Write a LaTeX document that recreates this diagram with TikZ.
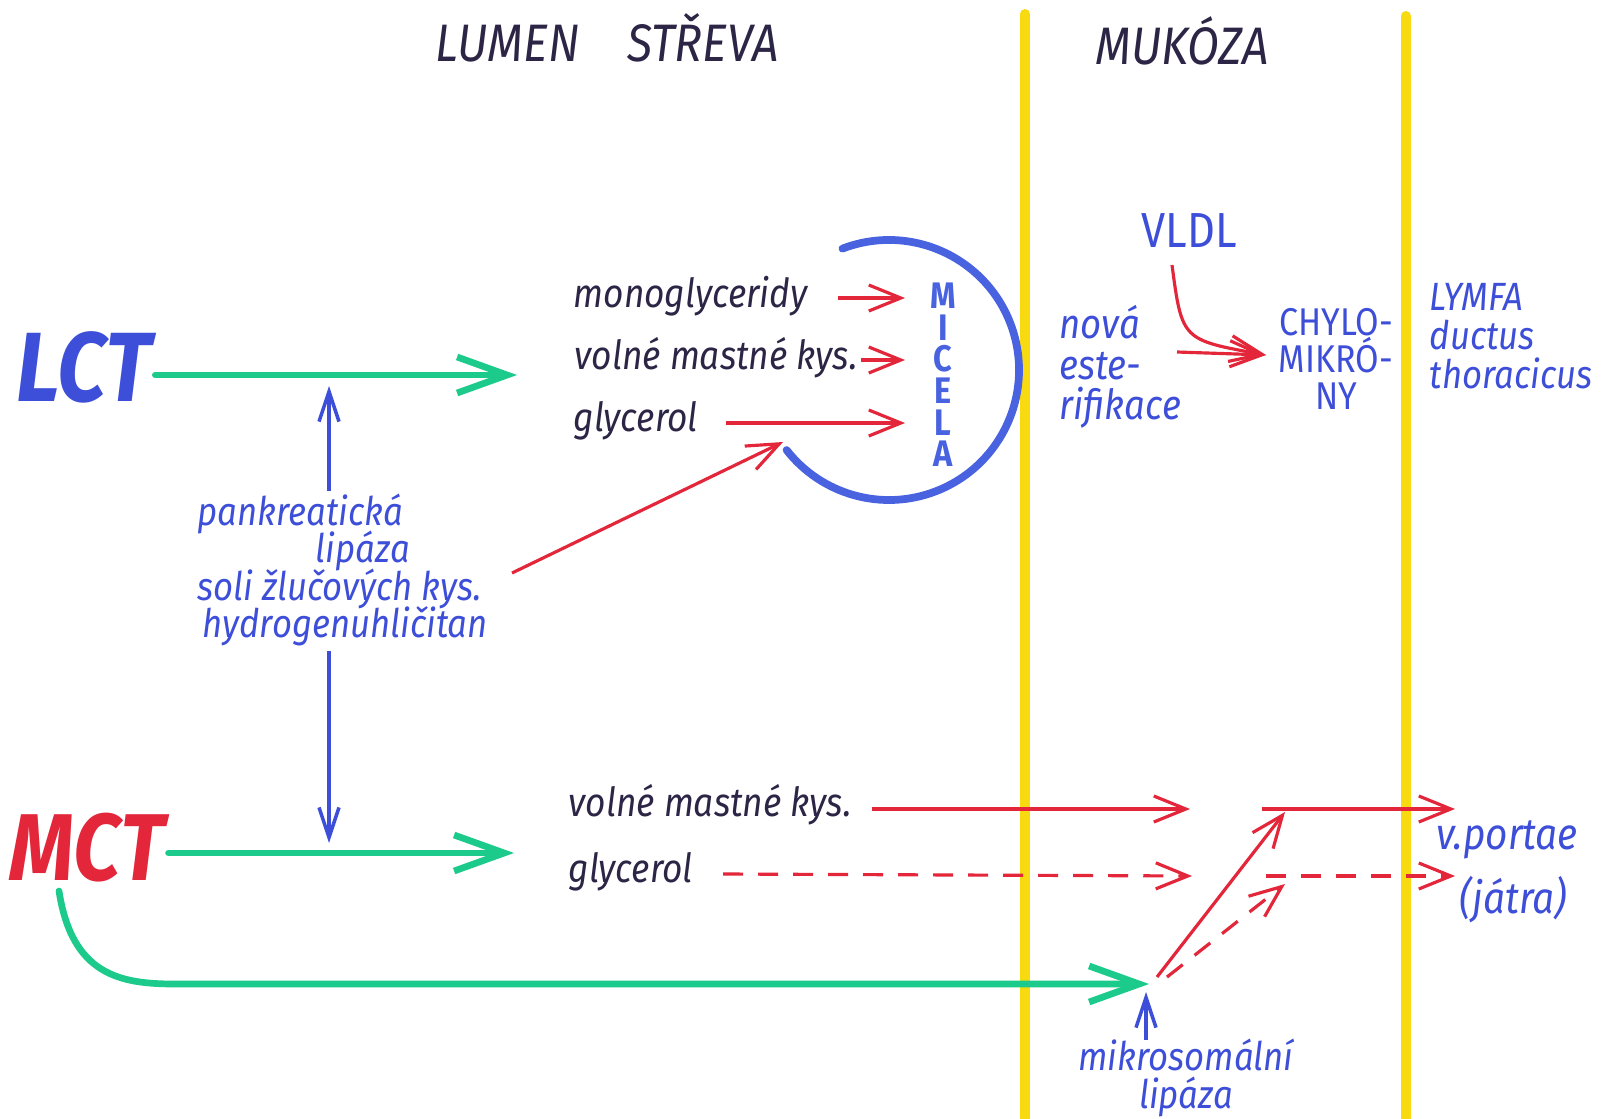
\documentclass[tikz,border=0pt]{standalone}
\usepackage{fontspec}
\setmainfont{Fira Sans}[FakeStretch=0.88]
\usetikzlibrary{arrows.meta}
\definecolor{ink}{HTML}{2C2545}
\definecolor{pen}{HTML}{3D4ED8}
\definecolor{redpen}{HTML}{E3263A}
\definecolor{greenpen}{HTML}{1CCB8C}
\definecolor{yelpen}{HTML}{F7DA10}
\definecolor{micpen}{HTML}{4862E0}

\begin{document}
\begin{tikzpicture}[x=0.01cm, y=-0.01cm,
    tight/.style={execute at begin node={\lineskiplimit=-50pt}},
    title/.style={text=ink, inner sep=0pt, font=\fontsize{15}{18}\selectfont\itshape},
    dark/.style={text=ink, anchor=west, inner sep=0pt, font=\fontsize{11.4}{14}\selectfont\itshape},
    hand/.style={text=pen, inner sep=0pt, tight, font=\fontsize{11.2}{10.6}\selectfont\itshape},
    caps/.style={text=pen, inner sep=0pt, align=center, tight, font=\fontsize{11.5}{10.5}\selectfont},
    big/.style={inner sep=1pt, font=\fontsize{28}{30}\selectfont\bfseries\itshape},
    wall/.style={yelpen, line width=1mm, line cap=round},
    red arr/.style={-{Straight Barb[length=3.2mm,width=2.6mm]}, redpen, line width=0.9pt},
    red dash/.style={red arr, dash pattern=on 2mm off 1.5mm},
    green arr/.style={-{Straight Barb[length=5mm,width=3.6mm]}, greenpen, line width=1.9pt, line cap=round},
    blue arr/.style={-{Straight Barb[length=3mm,width=2mm]}, pen, line width=1pt}
  ]
  \useasboundingbox (0,0) rectangle (1612,1118);
  \fill[white] (0,0) rectangle (1612,1118);

  % Walls
  \draw[wall] (1025,14) -- (1025,1118);
  \draw[wall] (1406,16) -- (1406,1118);

  % Titles
  \node[title] (lumen) at (607,38) {LUMEN\hspace{0.9em}STŘEVA};
  \node[title] (mukoza) at (1182,41) {MUKÓZA};

  % Substrates
  \node[big, text=pen] (lct) at (84,367) {LCT};
  \node[big, text=redpen, font=\fontsize{27}{30}\selectfont\bfseries\itshape] (mct) at (87,848) {MCT};

  % Enzymes
  \node[hand, align=left, anchor=west] (enzymes) at (197,570)
    {pankreatická\\\hspace*{3em}lipáza\\soli žlučových kys.\\\hspace*{1.5pt}hydrogenuhličitan};

  % Micelle
  \node[dark] (mono) at (573,296) {monoglyceridy};
  \node[dark] (vmk) at (574,358) {volné mastné kys.};
  \node[dark] (gly) at (573,421) {glycerol};
  \node[caps, text=micpen, font=\fontsize{10.5}{9}\selectfont\bfseries] (micela) at (943,375) {M\\I\\C\\E\\L\\A};
  \coordinate (micc) at (889,370);
  \draw[micpen, line width=2.2pt, line cap=round] ([shift={(-111:130)}]micc) arc[start angle=-111, end angle=142, radius=130];

  % Mucosa
  \node[caps, font=\fontsize{14}{16}\selectfont] (vldl) at (1189,231) {VLDL};
  \node[caps, align=left, anchor=west, font=\fontsize{11.8}{11.6}\selectfont\itshape] (ester) at (1059,367) {nová\\este-\\rifikace};
  \node[caps, font=\fontsize{11}{10.5}\selectfont] (chylo) at (1336,359) {CHYLO-\\MIKRÓ-\\NY};
  \node[hand, align=left, anchor=west, font=\fontsize{11.2}{11}\selectfont\itshape] (lymfa) at (1429,336) {LYMFA\\ductus\\thoracicus};

  % Portal route
  \node[dark] (vmk2) at (568,805) {volné mastné kys.};
  \node[dark] (gly2) at (568,872) {glycerol};
  \node[hand, anchor=west, font=\fontsize{12.5}{14}\selectfont\itshape] (portae) at (1436,840) {v.portae};
  \node[hand, font=\fontsize{12.5}{14}\selectfont\itshape] (jatra) at (1513,900) {(játra)};
  \node[hand, align=center] (mikro) at (1186,1078) {mikrosomální\\lipáza};

  % Points
  \coordinate (lctTip) at (517,375);
  \coordinate (mctTip) at (514,853);
  \coordinate (mctFoot) at (59,891);
  \coordinate (hub) at (1149,984);
  \coordinate (upFoot) at (329,491);
  \coordinate (upTip) at (329,386);
  \coordinate (downFoot) at (329,651);
  \coordinate (downTip) at (329,843);
  \coordinate (bile) at (512,573);
  \coordinate (bileTip) at (783,442);
  \coordinate (micTip) at (905,0);
  \coordinate (monoTail) at (838,298);
  \coordinate (vmkTail) at (861,360);
  \coordinate (glyTail) at (726,423);
  \coordinate (vldlFoot) at (1172,265);
  \coordinate (esterTail) at (1177,352);
  \coordinate (chyloTip) at (1266,355);
  \coordinate (vmk2Tail) at (872,809);
  \coordinate (vmk2Tip) at (1190,809);
  \coordinate (gly2Tail) at (723,874);
  \coordinate (gly2Tip) at (1192,876);
  \coordinate (fatOut) at (1262,809);
  \coordinate (fatTip) at (1455,809);
  \coordinate (glyOut) at (1266,876);
  \coordinate (glyTip) at (1455,876);
  \coordinate (splitA) at (1157,977);
  \coordinate (splitB) at (1167,977);
  \coordinate (riseA) at (1285,812);
  \coordinate (riseB) at (1285,884);
  \coordinate (mikroFoot) at (1146,1040);
  \coordinate (mikroTip) at (1146,992);

  % Green routes
  \draw[green arr] (lct.east |- lctTip) -- (lctTip);
  \draw[green arr] (mct.east |- mctTip) -- (mctTip);
  \draw[green arr] (mctFoot) .. controls (72,975) and (120,984) .. (175,984) -- (hub);

  % Enzyme arrows
  \draw[blue arr] (upFoot) -- (upTip);
  \draw[blue arr] (downFoot) -- (downTip);
  \draw[blue arr] (mikroFoot) -- (mikroTip);

  % Red arrows
  \draw[red arr] (bile) -- (bileTip);
  \draw[red arr] (monoTail) -- (monoTail -| micTip);
  \draw[red arr] (vmkTail) -- (vmkTail -| micTip);
  \draw[red arr] (glyTail) -- (glyTail -| micTip);
  \draw[red arr] (vldlFoot) .. controls (1182,340) .. (chyloTip);
  \draw[red arr] (esterTail) -- (chyloTip);
  \draw[red arr] (vmk2Tail) -- (vmk2Tip);
  \draw[red dash] (gly2Tail) -- (gly2Tip);
  \draw[red arr] (fatOut) -- (fatTip);
  \draw[red dash] (glyOut) -- (glyTip);
  \draw[red arr] (splitA) -- (riseA);
  \draw[red dash] (splitB) -- (riseB);
\end{tikzpicture}
\end{document}
